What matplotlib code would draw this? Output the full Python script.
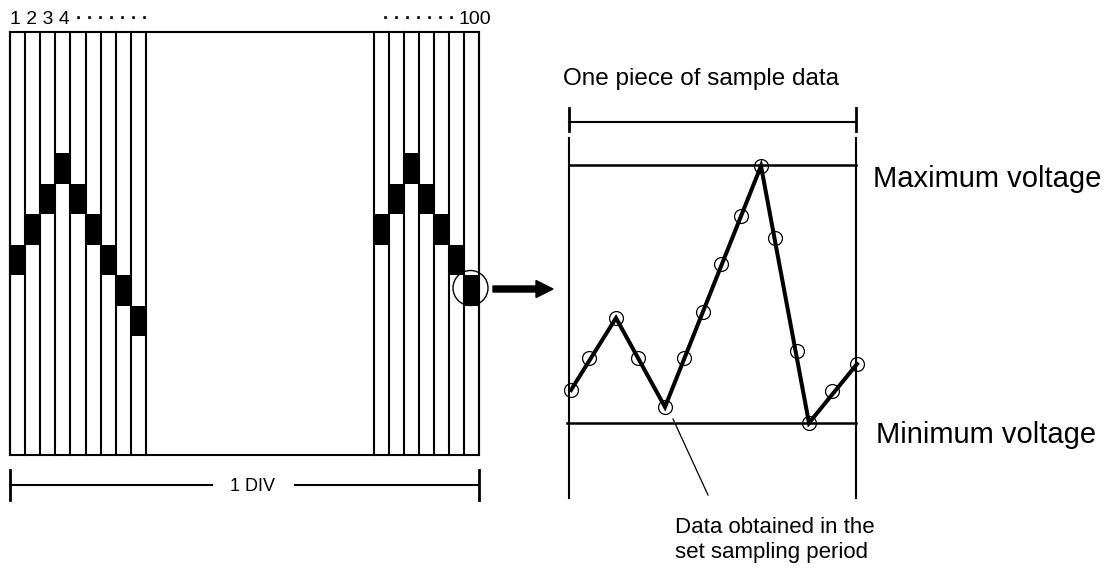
import numpy as np
import matplotlib
matplotlib.use('Agg')
import matplotlib.pyplot as plt
from matplotlib.patches import Rectangle, Circle

plt.rcParams['font.family'] = ['Liberation Sans', 'DejaVu Sans']

# levels of the black block in each column (0 = highest)
left_levels = [3, 2, 1, 0, 1, 2, 3, 4, 5]
right_levels = [2, 1, 0, 1, 2, 3, 4]

# one piece of sample data (pixel units)
sample_x = [571, 589, 616, 638, 665, 684, 703, 721, 741, 761, 775, 797, 809, 832, 857]
sample_y = [390, 358, 318, 358, 407, 358, 312, 264, 216, 166, 238, 351, 423, 391, 364]
vertex_idx = [0, 2, 4, 9, 12, 14]

fig = plt.figure(figsize=(11.15, 5.74), dpi=100)
ax = fig.add_axes([0, 0, 1, 1])
ax.set_xlim(0, 1115)
ax.set_ylim(574, 0)
ax.axis('off')

lw = 1.5
top, bot = 32, 455
left_x0, left_w = 9.5, 15.2
right_x0, right_w = 373.5, 15.05
blk_top, blk_h = 153, 30.5

# frame
ax.add_patch(Rectangle((left_x0, top), 479 - left_x0, bot - top, fill=False, lw=lw, color='black'))

# column lines
for k in range(len(left_levels) + 1):
    x = left_x0 + left_w * k
    ax.plot([x, x], [top, bot], color='black', lw=lw)
for k in range(len(right_levels) + 1):
    x = right_x0 + right_w * k
    ax.plot([x, x], [top, bot], color='black', lw=lw)

# black blocks
lx = left_x0 + left_w * (np.arange(len(left_levels)) + 0.5)
ax.bar(lx, blk_h, bottom=blk_top + blk_h * np.array(left_levels), width=left_w, color='black')
rx = right_x0 + right_w * (np.arange(len(right_levels)) + 0.5)
ax.bar(rx, blk_h, bottom=blk_top + blk_h * np.array(right_levels), width=right_w, color='black')

# circle + arrow
ax.add_patch(Circle((470.5, 288), 17.5, fill=False, lw=1.0, color='black'))
ax.arrow(493, 289, 60, 0, width=6, head_width=17, head_length=17,
         length_includes_head=True, color='black')

# top labels
dots = ' '.join(['\u00b7'] * 7)
ax.text(10, 24, '1 2 3 4', fontsize=14, ha='left', va='baseline')
ax.text(76, 24, dots, fontsize=13, ha='left', va='baseline', fontweight='bold')
ax.text(491, 24, '100', fontsize=14, ha='right', va='baseline')
ax.text(455, 24, dots, fontsize=13, ha='right', va='baseline', fontweight='bold')

# 1 DIV dimension
ax.plot([10, 212], [485, 485], color='black', lw=lw)
ax.plot([295, 479], [485, 485], color='black', lw=lw)
ax.plot([10, 10], [470, 500], color='black', lw=2)
ax.plot([479, 479], [470, 500], color='black', lw=2)
ax.text(253, 491, '1 DIV', fontsize=13, ha='center', va='baseline')

# right panel
pl, pr = 569, 856
ax.plot([pl, pl], [138, 498], color='black', lw=lw)
ax.plot([pr, pr], [138, 498], color='black', lw=lw)
ax.plot([pl, pr], [122, 122], color='black', lw=lw)
ax.plot([pl, pl], [108, 131], color='black', lw=2)
ax.plot([pr, pr], [108, 131], color='black', lw=2)
ax.plot([pl, pr], [165, 165], color='black', lw=1.8)
ax.plot([567, pr], [423, 423], color='black', lw=1.8)

vx = [sample_x[i] for i in vertex_idx]
vy = [sample_y[i] for i in vertex_idx]
ax.plot(vx, vy, color='black', lw=2.9, solid_joinstyle='miter')
ax.plot(sample_x, sample_y, 'o', ms=10, mfc='none', mec='black', mew=0.9)

ax.plot([673, 708], [419, 495], color='black', lw=0.9)

ax.text(563, 85, 'One piece of sample data', fontsize=17.5, ha='left', va='baseline')
ax.text(873, 187, 'Maximum voltage', fontsize=21, ha='left', va='baseline')
ax.text(876, 443, 'Minimum voltage', fontsize=21, ha='left', va='baseline')
ax.text(675, 533, 'Data obtained in the', fontsize=16, ha='left', va='baseline')
ax.text(675, 558, 'set sampling period', fontsize=16, ha='left', va='baseline')

fig.savefig('out.png', dpi=100)
